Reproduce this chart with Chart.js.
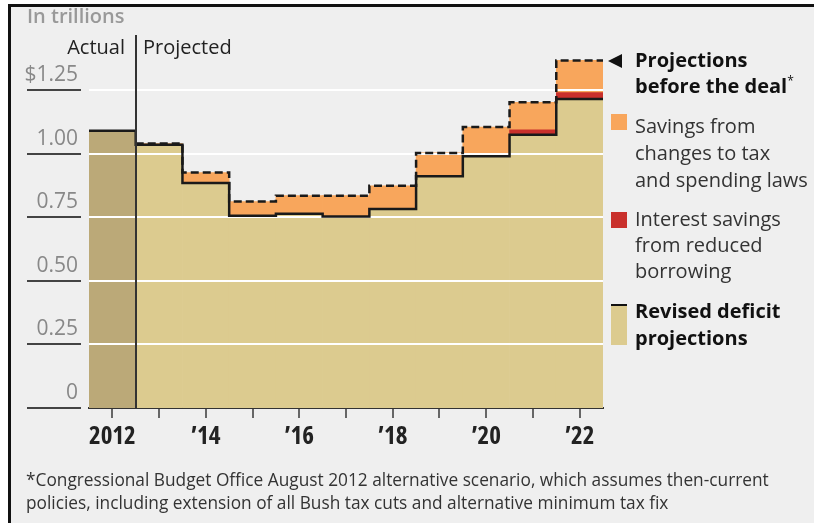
<!DOCTYPE html>
<html>
<head>
<meta charset="utf-8">
<script src="https://cdn.jsdelivr.net/npm/chart.js@4"></script>
<style>
  html, body { margin: 0; padding: 0; background: #fff; }
  #frame { position: absolute; left: 8px; top: 4px; width: 806px; height: 519px; box-sizing: border-box;
           background: #efefef; border-left: 3px solid #111; border-top: 3px solid #111; }
  #wrap { position: absolute; left: 0; top: 0; width: 814px; height: 523px; }
  .t { position: absolute; font-family: "Open Sans", sans-serif; font-size: 20px; color: #333;
       white-space: nowrap; line-height: 26px; }
  .b { font-weight: 700; color: #111; }
  .sw { position: absolute; }
</style>
</head>
<body>
<div id="frame"></div>
<div id="wrap"><canvas id="chart" width="814" height="523"></canvas></div>

<div class="t" style="left:27px; top:4px; line-height:24px; font-weight:600; color:#999;">In trillions</div>
<div class="t" style="right:689px; top:34px; color:#222;">Actual</div>
<div class="t" style="left:143px; top:34px; color:#222;">Projected</div>

<div class="sw" style="left:608px; top:54px; width:0; height:0; border-top:7px solid transparent; border-bottom:7px solid transparent; border-right:14px solid #111;"></div>
<div class="t b" style="left:635px; top:47px;">Projections<br>before the deal<span style="font-size:12px; font-weight:400; position:relative; top:-8px;">*</span></div>

<div class="sw" style="left:611px; top:114px; width:16px; height:16px; background:#f8a65c;"></div>
<div class="t" style="left:635px; top:112px; line-height:27px;">Savings from<br>changes to tax<br>and spending laws</div>

<div class="sw" style="left:611px; top:212px; width:16px; height:16px; background:#c9302c;"></div>
<div class="t" style="left:635px; top:206px;">Interest savings<br>from reduced<br>borrowing</div>

<div class="sw" style="left:611px; top:304px; width:16px; height:41px; background:#dccb8f; border-top:2px solid #111; box-sizing:border-box;"></div>
<div class="t b" style="left:635px; top:297px; line-height:27px;">Revised deficit<br>projections</div>

<div class="t" style="left:26px; top:468px; font-size:17.3px; line-height:23px; font-stretch:90%;">*Congressional Budget Office August 2012 alternative scenario, which assumes then-current<br>policies, including extension of all Bush tax cuts and alternative minimum tax fix</div>

<script>
const years = [2012, 2013, 2014, 2015, 2016, 2017, 2018, 2019, 2020, 2021, 2022];
const xTickLabels = ['2012', '', '\u201914', '', '\u201916', '', '\u201918', '', '\u201920', '', '\u201922'];
const revised = [1.09, 1.035, 0.885, 0.756, 0.764, 0.753, 0.783, 0.911, 0.99, 1.075, 1.215];
const interestSavings = [0, 0, 0, 0, 0, 0, 0, 0, 0, 0.019, 0.025];
const beforeDeal = [null, 1.04, 0.926, 0.812, 0.835, 0.835, 0.874, 1.003, 1.105, 1.202, 1.367];
const yTicks = [0, 0.25, 0.5, 0.75, 1, 1.25];
const yTickLabels = ['0', '0.25', '0.50', '0.75', '1.00', '$1.25'];

const policySavings = beforeDeal.map((v, i) => v == null ? 0 : v - revised[i] - interestSavings[i]);

// step lines: one point at each bar's left edge plus the last right edge
function stepPoints(vals) {
  const pts = [];
  vals.forEach((v, i) => { if (v != null) pts.push({ x: years[i] - 0.5, y: v }); });
  pts.push({ x: years[years.length - 1] + 0.5, y: vals[vals.length - 1] });
  return pts;
}

const tan = '#dccb8f';
const tanActual = '#bba978';

const chartExtras = {
  id: 'chartExtras',
  beforeDatasetDraw(chart, args) {
    // white gridlines go over the fills but under the step lines
    if (args.index !== 3) return;
    const { ctx, chartArea, scales } = chart;
    ctx.save();
    ctx.strokeStyle = '#fff';
    ctx.lineWidth = 2;
    yTicks.forEach(v => {
      if (v === 0) return;
      const py = Math.round(scales.y.getPixelForValue(v));
      ctx.beginPath();
      ctx.moveTo(chartArea.left, py);
      ctx.lineTo(chartArea.right, py);
      ctx.stroke();
    });
    ctx.restore();
  },
  afterDraw(chart) {
    const { ctx, chartArea, scales } = chart;
    ctx.save();
    ctx.strokeStyle = '#444';
    ctx.lineWidth = 2;
    yTicks.forEach(v => {
      const py = Math.round(scales.y.getPixelForValue(v));
      ctx.beginPath();
      ctx.moveTo(27, py);
      ctx.lineTo(81, py);
      ctx.stroke();
    });
    const px = Math.round(scales.x.getPixelForValue(2012.5));
    ctx.strokeStyle = '#333';
    ctx.beginPath();
    ctx.moveTo(px, 35);
    ctx.lineTo(px, chartArea.bottom);
    ctx.stroke();
    ctx.restore();
  }
};

new Chart(document.getElementById('chart'), {
  type: 'bar',
  data: {
    labels: years,
    datasets: [
      {
        label: 'Revised deficit projections',
        data: revised,
        backgroundColor: years.map((y, i) => i === 0 ? tanActual : tan),
        stack: 's', order: 2, barPercentage: 1, categoryPercentage: 1, borderWidth: 0
      },
      {
        label: 'Interest savings from reduced borrowing',
        data: interestSavings,
        backgroundColor: '#c9302c',
        stack: 's', order: 2, barPercentage: 1, categoryPercentage: 1, borderWidth: 0
      },
      {
        label: 'Savings from changes to tax and spending laws',
        data: policySavings,
        backgroundColor: '#f8a65c',
        stack: 's', order: 2, barPercentage: 1, categoryPercentage: 1, borderWidth: 0
      },
      {
        type: 'line',
        label: 'Revised line',
        data: stepPoints(revised),
        stack: 'revisedLine',
        stepped: 'before',
        borderColor: '#1a1a1a',
        borderWidth: 2.5,
        pointRadius: 0,
        fill: false,
        order: 1
      },
      {
        type: 'line',
        label: 'Projections before the deal',
        data: stepPoints(beforeDeal),
        stack: 'beforeLine',
        stepped: 'before',
        borderColor: '#1a1a1a',
        borderWidth: 2.5,
        borderDash: [8, 4],
        pointRadius: 0,
        fill: false,
        order: 0
      }
    ]
  },
  options: {
    responsive: false,
    animation: false,
    layout: { padding: { top: 52, right: 211, left: 0, bottom: 0 } },
    plugins: { legend: { display: false }, tooltip: { enabled: false } },
    scales: {
      x: {
        type: 'linear',
        stacked: true,
        offset: false,
        min: 2011.5, max: 2022.5,
        afterFit: axis => { axis.height = 115; },
        afterBuildTicks: axis => { axis.ticks = years.map(v => ({ value: v })); },
        grid: { drawOnChartArea: false, drawTicks: true, tickLength: 10, offset: false, color: '#666', lineWidth: 2 },
        border: { display: true, color: '#333', width: 2 },
        ticks: {
          autoSkip: false, maxRotation: 0, padding: 4, color: '#222',
          font: { family: '"Open Sans", sans-serif', size: 25, weight: 'bold condensed' },
          callback: v => xTickLabels[years.indexOf(v)]
        }
      },
      y: {
        stacked: true,
        min: 0, max: 1.4,
        afterFit: axis => { axis.width = 89; },
        afterBuildTicks: axis => { axis.ticks = yTicks.map(v => ({ value: v })); },
        grid: { display: false, drawTicks: false },
        border: { display: false },
        ticks: {
          padding: 11, labelOffset: -15, color: '#888',
          font: { family: '"Open Sans", sans-serif', size: 21 },
          callback: v => yTickLabels[yTicks.indexOf(v)]
        }
      }
    }
  },
  plugins: [chartExtras]
});
</script>
</body>
</html>
